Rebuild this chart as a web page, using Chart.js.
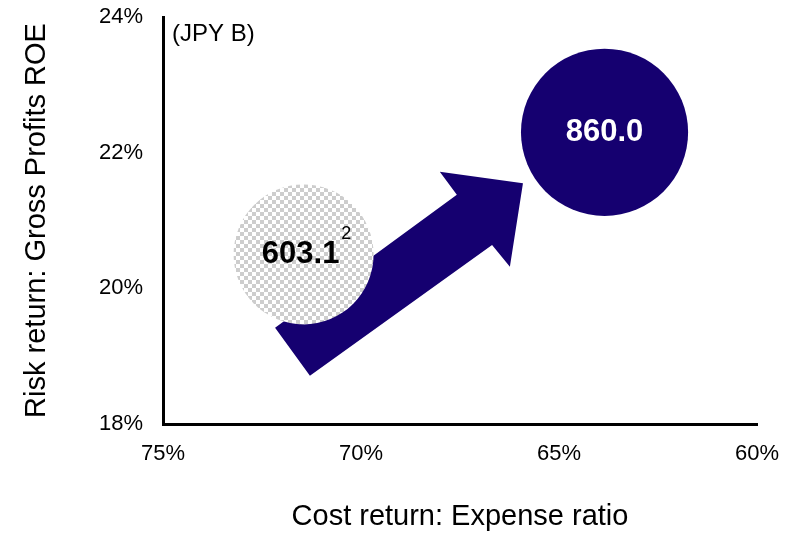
<!DOCTYPE html>
<html>
<head>
<meta charset="utf-8">
<script src="https://cdn.jsdelivr.net/npm/chart.js@4/dist/chart.umd.min.js"></script>
<style>
  html, body { margin: 0; padding: 0; background: #fff; }
  #wrap { width: 805px; height: 534px; }
</style>
</head>
<body>
<div id="wrap"><canvas id="chart" width="805" height="534"></canvas></div>
<script>
// Data
const bubbleLabels = ["603.1", "860.0"];
const bubbleNotes = ["2", ""];
const expenseRatio = [71.45, 63.85];   // x, %
const grossRoe = [20.5, 22.3];         // y, %
const grossProfit = [603.1, 860.0];    // bubble size, JPY B

// Arrow outline in data units (expense ratio %, ROE %)
const arrowX = [72.17, 67.58, 68.01, 65.91, 66.24, 66.69, 71.29];
const arrowY = [19.42, 21.38, 21.72, 21.55, 20.32, 20.64, 18.71];

const xTicks = [75, 70, 65, 60];
const yTicks = [18, 20, 22, 24];

const FONT = "'Liberation Sans', Arial, sans-serif";
const NAVY = "#150070";

// checkered fill for the first bubble
function checker() {
  const c = document.createElement("canvas");
  c.width = 8; c.height = 8;
  const g = c.getContext("2d");
  g.fillStyle = "#ffffff";
  g.fillRect(0, 0, 8, 8);
  g.fillStyle = "#cdcdcd";
  g.fillRect(0, 0, 4, 4);
  g.fillRect(4, 4, 4, 4);
  return g.createPattern(c, "repeat");
}

const arrowPlugin = {
  id: "arrow",
  beforeDatasetsDraw(chart) {
    const { ctx, scales } = chart;
    ctx.save();
    ctx.beginPath();
    arrowX.forEach((v, i) => {
      const px = scales.x.getPixelForValue(v);
      const py = scales.y.getPixelForValue(arrowY[i]);
      if (i === 0) ctx.moveTo(px, py); else ctx.lineTo(px, py);
    });
    ctx.closePath();
    ctx.fillStyle = NAVY;
    ctx.fill();
    ctx.restore();
  }
};

const labelPlugin = {
  id: "bubbleText",
  afterDatasetsDraw(chart) {
    const { ctx, chartArea } = chart;
    const meta = chart.getDatasetMeta(0);
    ctx.save();
    meta.data.forEach((pt, i) => {
      ctx.font = "bold 31px " + FONT;
      ctx.textAlign = "center";
      ctx.textBaseline = "middle";
      ctx.fillStyle = i === 0 ? "#000000" : "#ffffff";
      const cx = pt.x - (i === 0 ? 3 : 0);
      ctx.fillText(bubbleLabels[i], cx, pt.y);
      if (bubbleNotes[i]) {
        const w = ctx.measureText(bubbleLabels[i]).width;
        ctx.font = "18px " + FONT;
        ctx.textAlign = "left";
        ctx.textBaseline = "alphabetic";
        ctx.fillText(bubbleNotes[i], cx + w / 2 + 2, pt.y - 15);
      }
    });
    ctx.font = "24px " + FONT;
    ctx.fillStyle = "#000";
    ctx.textAlign = "left";
    ctx.textBaseline = "middle";
    ctx.fillText("(JPY B)", chartArea.left + 9, chartArea.top + 17);
    ctx.restore();
  }
};

const points = expenseRatio.map((x, i) => ({
  x: x,
  y: grossRoe[i],
  r: 2.85 * Math.sqrt(grossProfit[i])
}));

new Chart(document.getElementById("chart"), {
  type: "bubble",
  data: {
    datasets: [{
      data: points,
      backgroundColor: [checker(), NAVY],
      borderWidth: 0,
      hoverBorderWidth: 0,
      clip: false
    }]
  },
  options: {
    responsive: false,
    animation: false,
    events: [],
    layout: { autoPadding: false, padding: { top: 17, right: 48, left: 0, bottom: 0 } },
    plugins: { legend: { display: false }, tooltip: { enabled: false } },
    scales: {
      x: {
        type: "linear",
        reverse: true,
        min: 60, max: 75,
        afterBuildTicks: s => { s.ticks = xTicks.map(v => ({ value: v })); },
        afterFit: s => { s.height = 110; s.paddingLeft = 0; s.paddingRight = 0; },
        grid: { display: false, drawTicks: false },
        border: { display: true, color: "#000", width: 3 },
        ticks: {
          padding: 17,
          color: "#000",
          font: { family: FONT, size: 22 },
          callback: v => v + "%"
        },
        title: {
          display: true,
          text: "Cost return: Expense ratio",
          color: "#000",
          font: { family: FONT, size: 29 },
          padding: { top: 0, bottom: 0 }
        }
      },
      y: {
        type: "linear",
        min: 18, max: 24,
        afterBuildTicks: s => { s.ticks = yTicks.map(v => ({ value: v })); },
        afterFit: s => { s.width = 163; s.paddingTop = 0; s.paddingBottom = 0; },
        grid: { display: false, drawTicks: false },
        border: { display: true, color: "#000", width: 3 },
        ticks: {
          padding: 20,
          color: "#000",
          font: { family: FONT, size: 22 },
          callback: v => v + "%"
        },
        title: {
          display: true,
          text: "Risk return: Gross Profits ROE",
          color: "#000",
          font: { family: FONT, size: 29 },
          padding: { top: 20, bottom: 0 }
        }
      }
    }
  },
  plugins: [arrowPlugin, labelPlugin]
});
</script>
</body>
</html>
